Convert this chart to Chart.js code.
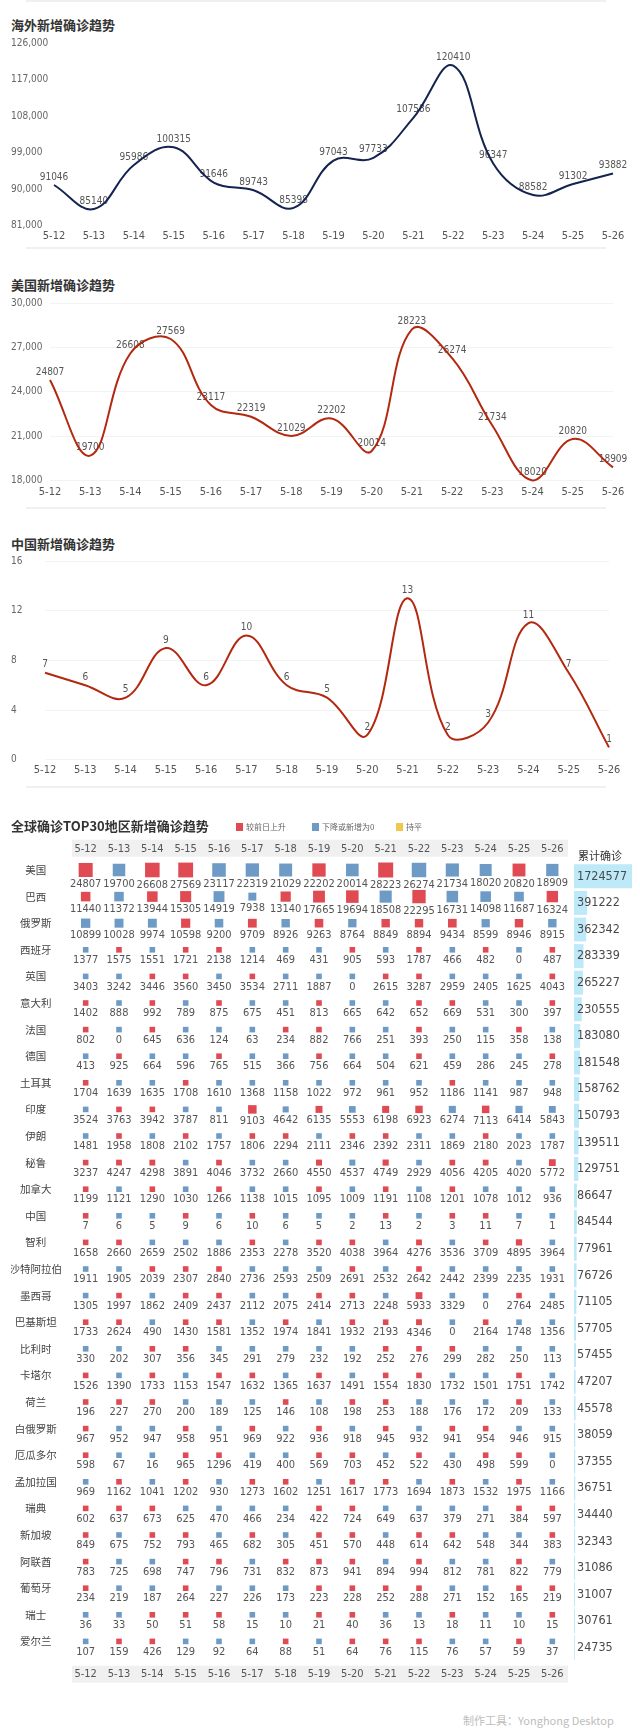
<!DOCTYPE html>
<html>
<head>
<meta charset="utf-8">
<script src="https://cdn.jsdelivr.net/npm/chart.js@4.4.0/dist/chart.umd.min.js"></script>
<style>
  body { margin: 0; width: 640px; height: 1736px; position: relative; background: #fff; overflow: hidden;
         font-family: "Noto Sans CJK SC", "Noto Sans", sans-serif; }
  canvas { position: absolute; }
  .title { position: absolute; left: 11px; font-size: 13px; font-weight: bold; color: #333; line-height: 16px; white-space: nowrap; }
  .rule { position: absolute; left: 26px; width: 580px; height: 2px; background: #eef0f2; }
  .legend { position: absolute; font-size: 8px; color: #666; line-height: 10px; white-space: nowrap; }
  .swatch { position: absolute; width: 7px; height: 8px; }
  .total-head { position: absolute; left: 578px; top: 847px; font-size: 11px; color: #333; line-height: 16px; }
  .footer { position: absolute; left: 463px; top: 1713px; font-size: 11px; color: #bdbdbd; line-height: 14px; white-space: nowrap; }
</style>
</head>
<body>

<div class="rule" style="top:0px"></div>
<div class="title" style="top:17px">海外新增确诊趋势</div>
<canvas id="overseasChart" width="640" height="220" style="left:0;top:30px"></canvas>
<div class="rule" style="top:247px"></div>

<div class="title" style="top:277px">美国新增确诊趋势</div>
<canvas id="usChart" width="640" height="220" style="left:0;top:290px"></canvas>
<div class="rule" style="top:507px"></div>

<div class="title" style="top:536px">中国新增确诊趋势</div>
<canvas id="chinaChart" width="640" height="236" style="left:0;top:548px"></canvas>
<div class="rule" style="top:786px"></div>

<canvas id="topChart" width="640" height="882" style="left:0;top:830px"></canvas>
<canvas id="totalChart" width="66" height="798" style="left:574px;top:863px"></canvas>

<div class="title" style="top:818px">全球确诊TOP30地区新增确诊趋势</div>
<div class="swatch" style="left:236px;top:823px;background:#e04b53"></div>
<div class="legend" style="left:246px;top:822px">较前日上升</div>
<div class="swatch" style="left:312px;top:823px;background:#6d9bc6"></div>
<div class="legend" style="left:322px;top:822px">下降或新增为0</div>
<div class="swatch" style="left:396px;top:823px;background:#f0c84e"></div>
<div class="legend" style="left:406px;top:822px">持平</div>
<div class="total-head">累计确诊</div>
<div class="footer">制作工具：Yonghong Desktop</div>

<script>
/******************************************* data **/
const dates = ["5-12", "5-13", "5-14", "5-15", "5-16", "5-17", "5-18", "5-19",
  "5-20", "5-21", "5-22", "5-23", "5-24", "5-25", "5-26"];

// line charts
const overseasNew = [91046, 85140, 95986, 100315, 91646, 89743, 85398, 97043,
  97733, 107586, 120410, 96347, 88582, 91302, 93882];
const usNew = [24807, 19700, 26608, 27569, 23117, 22319, 21029, 22202,
  20014, 28223, 26274, 21734, 18020, 20820, 18909];
const chinaNew = [7, 6, 5, 9, 6, 10, 6, 5, 2, 13, 2, 3, 11, 7, 1];

const overseasTicks = [81000, 90000, 99000, 108000, 117000, 126000];
const usTicks = [18000, 21000, 24000, 27000, 30000];
const chinaTicks = [0, 4, 8, 12, 16];

// top 30 table
const countries = ["美国", "巴西", "俄罗斯", "西班牙", "英国", "意大利", "法国", "德国",
  "土耳其", "印度", "伊朗", "秘鲁", "加拿大", "中国", "智利", "沙特阿拉伯", "墨西哥",
  "巴基斯坦", "比利时", "卡塔尔", "荷兰", "白俄罗斯", "厄瓜多尔", "孟加拉国", "瑞典",
  "新加坡", "阿联酋", "葡萄牙", "瑞士", "爱尔兰"];

const dailyNew = [
  [24807, 19700, 26608, 27569, 23117, 22319, 21029, 22202, 20014, 28223, 26274, 21734, 18020, 20820, 18909],
  [11440, 11372, 13944, 15305, 14919, 7938, 13140, 17665, 19694, 18508, 22295, 16731, 14098, 11687, 16324],
  [10899, 10028, 9974, 10598, 9200, 9709, 8926, 9263, 8764, 8849, 8894, 9434, 8599, 8946, 8915],
  [1377, 1575, 1551, 1721, 2138, 1214, 469, 431, 905, 593, 1787, 466, 482, 0, 487],
  [3403, 3242, 3446, 3560, 3450, 3534, 2711, 1887, 0, 2615, 3287, 2959, 2405, 1625, 4043],
  [1402, 888, 992, 789, 875, 675, 451, 813, 665, 642, 652, 669, 531, 300, 397],
  [802, 0, 645, 636, 124, 63, 234, 882, 766, 251, 393, 250, 115, 358, 138],
  [413, 925, 664, 596, 765, 515, 366, 756, 664, 504, 621, 459, 286, 245, 278],
  [1704, 1639, 1635, 1708, 1610, 1368, 1158, 1022, 972, 961, 952, 1186, 1141, 987, 948],
  [3524, 3763, 3942, 3787, 811, 9103, 4642, 6135, 5553, 6198, 6923, 6274, 7113, 6414, 5843],
  [1481, 1958, 1808, 2102, 1757, 1806, 2294, 2111, 2346, 2392, 2311, 1869, 2180, 2023, 1787],
  [3237, 4247, 4298, 3891, 4046, 3732, 2660, 4550, 4537, 4749, 2929, 4056, 4205, 4020, 5772],
  [1199, 1121, 1290, 1030, 1266, 1138, 1015, 1095, 1009, 1191, 1108, 1201, 1078, 1012, 936],
  [7, 6, 5, 9, 6, 10, 6, 5, 2, 13, 2, 3, 11, 7, 1],
  [1658, 2660, 2659, 2502, 1886, 2353, 2278, 3520, 4038, 3964, 4276, 3536, 3709, 4895, 3964],
  [1911, 1905, 2039, 2307, 2840, 2736, 2593, 2509, 2691, 2532, 2642, 2442, 2399, 2235, 1931],
  [1305, 1997, 1862, 2409, 2437, 2112, 2075, 2414, 2713, 2248, 5933, 3329, 0, 2764, 2485],
  [1733, 2624, 490, 1430, 1581, 1352, 1974, 1841, 1932, 2193, 4346, 0, 2164, 1748, 1356],
  [330, 202, 307, 356, 345, 291, 279, 232, 192, 252, 276, 299, 282, 250, 113],
  [1526, 1390, 1733, 1153, 1547, 1632, 1365, 1637, 1491, 1554, 1830, 1732, 1501, 1751, 1742],
  [196, 227, 270, 200, 189, 125, 146, 108, 198, 253, 188, 176, 172, 209, 133],
  [967, 952, 947, 958, 951, 969, 922, 936, 918, 945, 932, 941, 954, 946, 915],
  [598, 67, 16, 965, 1296, 419, 400, 569, 703, 452, 522, 430, 498, 599, 0],
  [969, 1162, 1041, 1202, 930, 1273, 1602, 1251, 1617, 1773, 1694, 1873, 1532, 1975, 1166],
  [602, 637, 673, 625, 470, 466, 234, 422, 724, 649, 637, 379, 271, 384, 597],
  [849, 675, 752, 793, 465, 682, 305, 451, 570, 448, 614, 642, 548, 344, 383],
  [783, 725, 698, 747, 796, 731, 832, 873, 941, 894, 994, 812, 781, 822, 779],
  [234, 219, 187, 264, 227, 226, 173, 223, 228, 252, 288, 271, 152, 165, 219],
  [36, 33, 50, 51, 58, 15, 10, 21, 40, 36, 13, 18, 11, 10, 15],
  [107, 159, 426, 129, 92, 64, 88, 51, 64, 76, 115, 76, 57, 59, 37]
];

// 5-12 compared with 5-11 (not in the table)
const firstDayTrend = ["up", "up", "down", "down", "down", "up", "up", "down", "up", "down",
  "down", "up", "up", "up", "up", "down", "down", "up", "down", "up",
  "up", "up", "up", "down", "up", "up", "up", "up", "down", "down"];

const totalConfirmed = [1724577, 391222, 362342, 283339, 265227, 230555, 183080, 181548,
  158762, 150793, 139511, 129751, 86647, 84544, 77961, 76726, 71105, 57705, 57455,
  47207, 45578, 38059, 37355, 36751, 34440, 32343, 31086, 31007, 30761, 24735];

/******************************************* styles **/
const NARROW = '"Liberation Sans Narrow", "DejaVu Sans Condensed", "Noto Sans", sans-serif';
const CJK = '"Noto Sans CJK SC", "Noto Sans", sans-serif';
const trendColors = { up: "#e04b53", down: "#6d9bc6", flat: "#f0c84e" };

/******************************************* plugins **/
// value labels above the line points (drawn under the line)
const pointLabels = {
  id: "pointLabels",
  beforeDatasetsDraw(chart) {
    const ctx = chart.ctx;
    const values = chart.data.datasets[0].data;
    ctx.save();
    ctx.font = `10px ${NARROW}`;
    ctx.fillStyle = "#555";
    ctx.textAlign = "center";
    ctx.textBaseline = "middle";
    chart.getDatasetMeta(0).data.forEach((pt, i) => {
      ctx.fillText(values[i], pt.x, pt.y - 8);
    });
    ctx.restore();
  },
};

// grey date bands above and below the table
const dateBands = {
  id: "dateBands",
  beforeDraw(chart) {
    const { ctx, chartArea: a } = chart;
    ctx.save();
    ctx.fillStyle = "#f0f0f0";
    ctx.fillRect(a.left + 3, a.top - 17, a.width - 4, 17);
    ctx.fillRect(a.left + 3, a.bottom + 11, a.width - 4, 17);
    ctx.restore();
  },
};

// numbers under each square
const squareLabels = {
  id: "squareLabels",
  afterDatasetsDraw(chart) {
    const ctx = chart.ctx;
    const data = chart.data.datasets[0].data;
    ctx.save();
    ctx.font = `11px ${NARROW}`;
    ctx.fillStyle = "#555";
    ctx.textAlign = "center";
    ctx.textBaseline = "middle";
    chart.getDatasetMeta(0).data.forEach((pt, i) => {
      ctx.fillText(data[i].v, pt.x, pt.y + squareSide(data[i].v) / 2 + 7.5);
    });
    ctx.restore();
  },
};

// totals written on the bars
const barValues = {
  id: "barValues",
  afterDatasetsDraw(chart) {
    const ctx = chart.ctx;
    const values = chart.data.datasets[0].data;
    ctx.save();
    ctx.font = `12.5px ${NARROW}`;
    ctx.fillStyle = "#4a4a4a";
    ctx.textAlign = "left";
    ctx.textBaseline = "middle";
    chart.getDatasetMeta(0).data.forEach((bar, i) => {
      ctx.fillText(values[i], chart.chartArea.left + 3, bar.y);
    });
    ctx.restore();
  },
};

/******************************************* helpers **/
const maxDaily = Math.max(...dailyNew.flat());

function squareSide(v) {
  return Math.max(5.6, 15 * Math.sqrt(v / maxDaily));
}

function trendOf(v, prev) {
  if (v === 0 || v < prev) return "down";
  if (v > prev) return "up";
  return "flat";
}

function makeTrendChart(id, values, ticks, cfg) {
  return new Chart(document.getElementById(id), {
    type: "line",
    data: {
      labels: dates,
      datasets: [{
        data: values,
        borderColor: cfg.color,
        borderWidth: 2,
        pointRadius: 0,
        tension: 0.4,
        fill: false,
        clip: false,
      }],
    },
    options: {
      responsive: false,
      animation: false,
      layout: { padding: cfg.padding },
      plugins: { legend: { display: false }, tooltip: { enabled: false } },
      scales: {
        x: {
          grid: { display: false, drawTicks: false },
          border: { display: false },
          ticks: { autoSkip: false, maxRotation: 0, padding: cfg.labelGap, color: "#555",
                   font: { family: NARROW, size: 11 } },
        },
        y: {
          min: ticks[0],
          max: ticks[ticks.length - 1],
          grid: { display: cfg.grid, color: "#f3f3f3", drawTicks: false },
          border: { display: false },
          ticks: {
            stepSize: ticks[1] - ticks[0],
            crossAlign: "far",
            padding: 0,
            color: "#666",
            font: { family: NARROW, size: 10 },
            callback: (v) => (cfg.comma ? v.toLocaleString("en-US") : v),
          },
          afterFit(scale) {
            scale.width = cfg.axisWidth;
          },
        },
      },
    },
    plugins: [pointLabels],
  });
}

/******************************************* line charts **/
makeTrendChart("overseasChart", overseasNew, overseasTicks, {
  color: "#14234f", grid: false, comma: true, axisWidth: 43, labelGap: 4,
  padding: { top: 13, left: 11, right: 27, bottom: 3 },
});

makeTrendChart("usChart", usNew, usTicks, {
  color: "#b3280f", grid: true, comma: true, axisWidth: 39, labelGap: 5,
  padding: { top: 13, left: 11, right: 27, bottom: 6 },
});

makeTrendChart("chinaChart", chinaNew, chinaTicks, {
  color: "#b3280f", grid: true, comma: false, axisWidth: 34, labelGap: 4,
  padding: { top: 13, left: 11, right: 31, bottom: 3 },
});

/******************************************* top 30 squares **/
const cells = [];
countries.forEach((country, j) => {
  dailyNew[j].forEach((v, i) => {
    cells.push({
      x: dates[i],
      y: country,
      v: v,
      trend: i === 0 ? firstDayTrend[j] : trendOf(v, dailyNew[j][i - 1]),
    });
  });
});

const dateTicks = {
  autoSkip: false, maxRotation: 0, color: "#555",
  font: { family: NARROW, size: 11 },
};

new Chart(document.getElementById("topChart"), {
  type: "bubble",
  data: {
    datasets: [{
      data: cells,
      pointStyle: "rect",
      borderWidth: 0,
      radius: (ctx) => squareSide(ctx.raw.v) / Math.SQRT2,
      backgroundColor: (ctx) => trendColors[ctx.raw.trend],
      clip: false,
    }],
  },
  options: {
    responsive: false,
    animation: false,
    layout: { padding: { top: 11.5, left: 11, right: 71, bottom: 18.7 } },
    plugins: { legend: { display: false }, tooltip: { enabled: false } },
    scales: {
      x: {
        type: "category", labels: dates, position: "bottom", offset: true,
        grid: { display: false, drawTicks: false }, border: { display: false },
        ticks: { ...dateTicks, padding: 12.7 },
      },
      xTop: {
        type: "category", labels: dates, position: "top", offset: true,
        grid: { display: false, drawTicks: false }, border: { display: false },
        ticks: { ...dateTicks, padding: 1 },
      },
      y: {
        type: "category", labels: countries, offset: true,
        grid: { display: false, drawTicks: false }, border: { display: false },
        ticks: { autoSkip: false, crossAlign: "center", padding: 7, color: "#444",
                 font: { family: CJK, size: 10.5 } },
        afterFit(scale) {
          scale.width = 58;
        },
      },
    },
  },
  plugins: [dateBands, squareLabels],
});

/******************************************* cumulative bars **/
new Chart(document.getElementById("totalChart"), {
  type: "bar",
  data: {
    labels: countries,
    datasets: [{
      data: totalConfirmed,
      backgroundColor: "#bde9f9",
      borderWidth: 0,
      barPercentage: 0.9,
      categoryPercentage: 1,
    }],
  },
  options: {
    indexAxis: "y",
    responsive: false,
    animation: false,
    layout: { padding: { right: 8 } },
    plugins: { legend: { display: false }, tooltip: { enabled: false } },
    scales: {
      x: { display: false, min: 0, max: Math.max(...totalConfirmed) },
      y: { display: false },
    },
  },
  plugins: [barValues],
});
</script>
</body>
</html>
